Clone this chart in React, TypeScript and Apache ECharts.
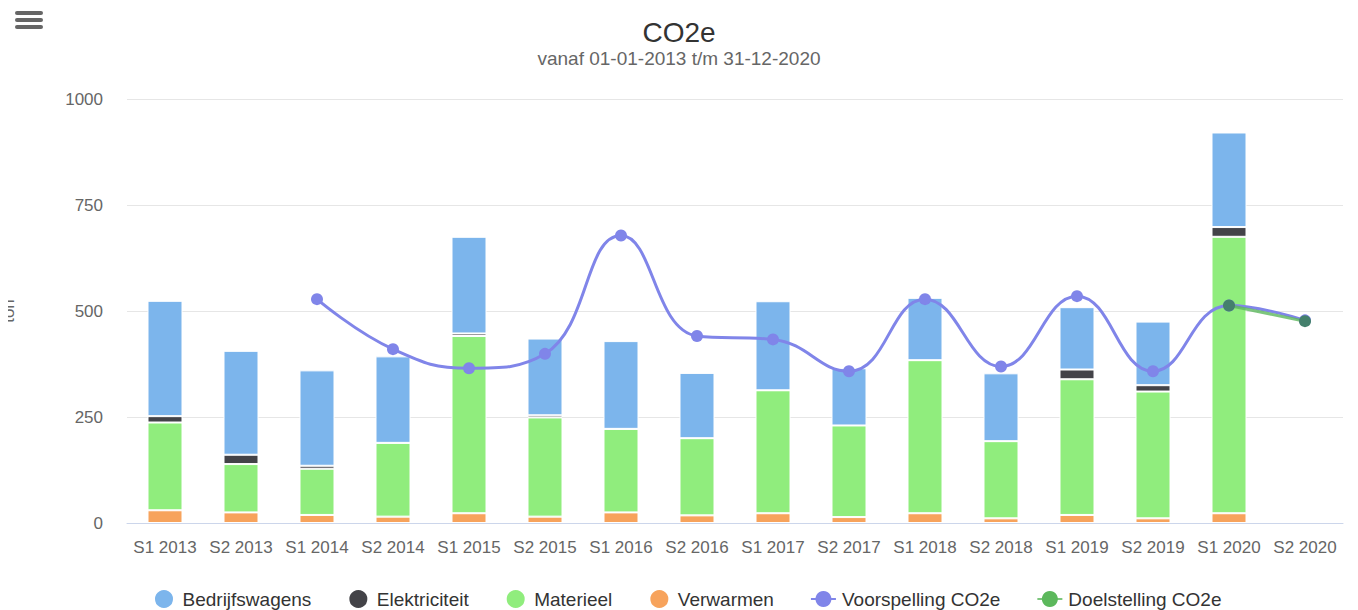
import React, { useEffect, useRef } from "react";
import * as echarts from "echarts";

const categories = [
  "S1 2013", "S2 2013", "S1 2014", "S2 2014", "S1 2015", "S2 2015", "S1 2016", "S2 2016",
  "S1 2017", "S2 2017", "S1 2018", "S2 2018", "S1 2019", "S2 2019", "S1 2020", "S2 2020",
];
const bedrijfswagens = [272, 245, 225, 204, 228, 181, 207, 154, 210, 135, 147, 160, 147, 150, 223, null];
const elektriciteit = [15, 22, 7, 0, 6, 5, 0, 0, 0, 0, 0, 0, 23, 15, 23, null];
const materieel = [207, 114, 109, 174, 418, 234, 197, 182, 290, 216, 361, 182, 320, 299, 652, null];
const verwarmen = [30, 25, 19, 15, 23, 15, 25, 18, 23, 14, 23, 11, 19, 11, 23, null];
const voorspelling = [null, null, 528, 410, 365, 399, 678, 441, 433, 358, 528, 369, 535, 358, 513, 478];
const doelstelling = [null, null, null, null, null, null, null, null, null, null, null, null, null, null, 513, 476];
const yTicks = { min: 0, max: 1000, interval: 250 };

const FONT = "'Liberation Sans', Arial, Helvetica, sans-serif";

export default function App() {
  const ref = useRef<HTMLDivElement>(null);
  useEffect(() => {
    if (!ref.current) return;
    const chart = echarts.init(ref.current, null, { renderer: "svg" });
    const bar = (name: string, data: (number | null)[], color: string) => ({
      name,
      type: "bar",
      stack: "total",
      data,
      barWidth: 35,
      itemStyle: { color, borderColor: "#ffffff", borderWidth: 1 },
      emphasis: { disabled: true },
    });
    chart.setOption({
      animation: false,
      textStyle: { fontFamily: FONT },
      title: {
        text: "CO2e",
        subtext: "vanaf 01-01-2013 t/m 31-12-2020",
        left: "center",
        top: 13,
        itemGap: 3,
        textStyle: { fontSize: 28, fontWeight: "normal", color: "#333333", fontFamily: FONT },
        subtextStyle: { fontSize: 19, color: "#666666", fontFamily: FONT },
      },
      grid: { left: 127, right: 15, top: 99, bottom: 87, containLabel: false },
      legend: {
        top: 588,
        left: 153,
        padding: 0,
        itemWidth: 25,
        itemHeight: 20,
        itemGap: 36,
        textStyle: { fontSize: 19, color: "#333333", fontFamily: FONT, padding: [0, 0, 0, 1] },
        data: [
          { name: "Bedrijfswagens", icon: "circle" },
          { name: "Elektriciteit", icon: "circle" },
          { name: "Materieel", icon: "circle" },
          { name: "Verwarmen", icon: "circle" },
          { name: "Voorspelling CO2e" },
          { name: "Doelstelling CO2e" },
        ],
      },
      xAxis: {
        type: "category",
        data: categories,
        axisTick: { show: false },
        axisLine: { lineStyle: { color: "#ccd6eb", width: 1 } },
        axisLabel: { fontSize: 17, color: "#666666", margin: 16, interval: 0, fontFamily: FONT },
      },
      yAxis: {
        type: "value",
        min: yTicks.min,
        max: yTicks.max,
        interval: yTicks.interval,
        axisLine: { show: false },
        axisTick: { show: false },
        splitLine: { lineStyle: { color: "#e6e6e6", width: 1 } },
        axisLabel: {
          fontSize: 17,
          color: "#666666",
          margin: 24,
          fontFamily: FONT,
          formatter: (v: number) => String(v),
        },
      },
      graphic: [
        { type: "rect", shape: { x: 15, y: 11, width: 28, height: 4, r: 2 }, style: { fill: "#666666" } },
        { type: "rect", shape: { x: 15, y: 18, width: 28, height: 4, r: 2 }, style: { fill: "#666666" } },
        { type: "rect", shape: { x: 15, y: 25, width: 28, height: 4, r: 2 }, style: { fill: "#666666" } },
        {
          type: "text",
          x: 17,
          y: 311,
          rotation: Math.PI / 2,
          style: { text: "ton", fontSize: 17, fill: "#666666", align: "center", verticalAlign: "bottom", fontFamily: FONT },
        },
        { type: "rect", shape: { x: 0, y: 280, width: 8, height: 60 }, style: { fill: "#ffffff" } },
      ],
      series: [
        bar("Verwarmen", verwarmen, "#f7a35c"),
        bar("Materieel", materieel, "#90ed7d"),
        bar("Elektriciteit", elektriciteit, "#434348"),
        bar("Bedrijfswagens", bedrijfswagens, "#7cb5ec"),
        {
          name: "Voorspelling CO2e",
          type: "line",
          data: voorspelling,
          smooth: 0.45,
          lineStyle: { color: "#8085e9", width: 3 },
          itemStyle: { color: "#8085e9" },
          symbol: "circle",
          symbolSize: 12,
          z: 4,
          emphasis: { disabled: true },
        },
        {
          name: "Doelstelling CO2e",
          type: "line",
          data: doelstelling.map((v) => (v == null ? null : { value: v, itemStyle: { color: "#44806c" } })),
          lineStyle: { color: "#5cb85c", width: 3, opacity: 0.8 },
          itemStyle: { color: "#5cb85c" },
          symbol: "circle",
          symbolSize: 12,
          z: 5,
          emphasis: { disabled: true },
        },
      ],
    });
    return () => chart.dispose();
  }, []);
  return (
    <div
      ref={ref}
      style={{ position: "absolute", left: 0, top: 0, width: 1358, height: 610 }}
    />
  );
}
